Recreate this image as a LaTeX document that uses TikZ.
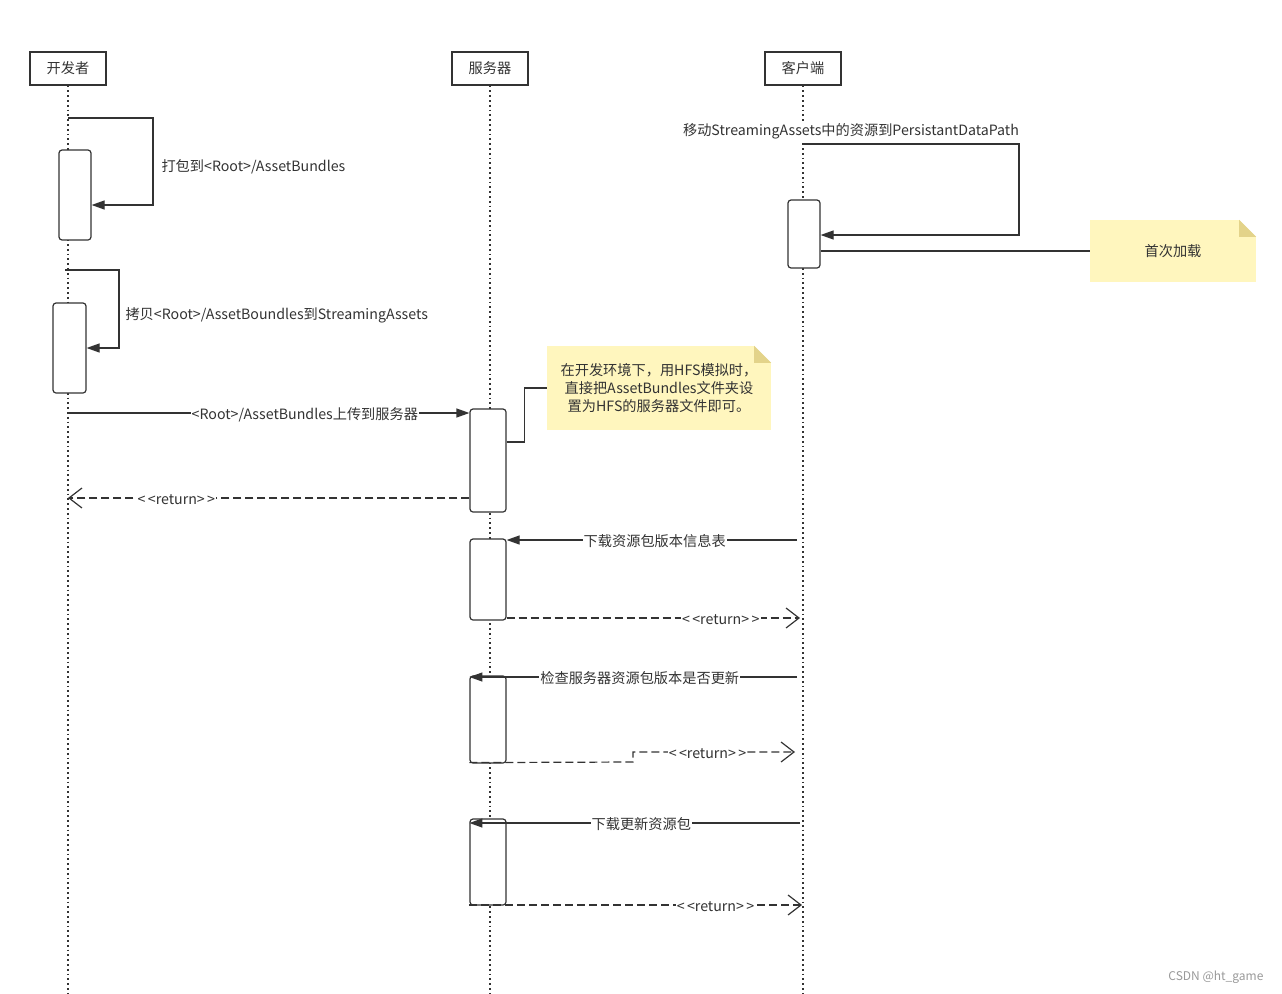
\documentclass[tikz,border=0pt]{standalone}
\usepackage{fontspec}
\newfontfamily\cjk{Noto Sans CJK SC}
\usetikzlibrary{positioning,arrows.meta}

\definecolor{linegray}{HTML}{333333}
\definecolor{notefill}{HTML}{FFF6BE}
\definecolor{notefold}{HTML}{E3D38A}

\tikzset{
    every node/.style={font=\cjk\fontsize{14.2}{18}\selectfont, text=linegray},
    actor/.style={draw=linegray, line width=1.2pt, minimum width=76pt, minimum height=33pt, inner sep=0pt},
    act/.style={draw=linegray, fill=white, line width=1.2pt, rounded corners=3pt, inner sep=0pt},
    life/.style={linegray, line width=1.8pt, dash pattern=on 1.8pt off 3pt},
    link/.style={linegray, line width=1.2pt},
    msg/.style={linegray, line width=1.2pt, -{Triangle[length=13pt,width=9pt]}},
    ret/.style={linegray, line width=1.2pt, dash pattern=on 8pt off 4pt, -{Straight Barb[length=13pt,width=20pt]}},
    lbl/.style={fill=white, inner sep=1pt, yshift=-1.5pt},
    note/.style={fill=notefill, inner sep=0pt, align=center},
}

\begin{document}
\begin{tikzpicture}[x=1pt,y=-1pt]
        \useasboundingbox (0,0) rectangle (1282,993);
        % 三个参与者
        \node [actor] (dev) at (68,68.5) {开发者};
        \node [actor] (srv) at (490,68.5) {服务器};
        \node [actor] (cli) at (803,68.5) {客户端};
        % 生命线
        \coordinate (devend) at (68,993);
        \coordinate (srvend) at (490,993);
        \coordinate (cliend) at (803,993);
        \draw [life] (dev.south) -- (devend);
        \draw [life] (srv.south) -- (srvend);
        \draw [life] (cli.south) -- (cliend);

        % 激活框
        \node [act, minimum width=32pt, minimum height=90pt] (d1) at (75,195) {};
        \node [act, minimum width=33pt, minimum height=90pt] (d2) at (69.5,348) {};
        \node [act, minimum width=36pt, minimum height=103pt] (s1) at (488,460.5) {};
        \node [act, minimum width=36pt, minimum height=81pt] (s2) at (488,579.5) {};
        \node [act, minimum width=36pt, minimum height=87pt] (s3) at (488,719.5) {};
        \node [act, minimum width=36pt, minimum height=86pt] (s4) at (488,862) {};
        \node [act, minimum width=32pt, minimum height=68pt] (c1) at (804,234) {};

        % 开发者: 打包, 拷贝
        \coordinate (l1) at (68,118);
        \draw [msg] (l1) -- (153,118) |- ([yshift=-10pt]d1.east);
        \node [anchor=west] (t1) at (158,167) {打包到<Root>/AssetBundles};
        \coordinate (l2) at (65,270);
        \draw [msg] (l2) -- (119,270) |- (d2.east);
        \node [anchor=west] (t2) at (122,315) {拷贝<Root>/AssetBoundles到StreamingAssets};

        % 上传到服务器
        \coordinate (m3) at (68,413);
        \draw [msg] (m3) -- (m3 -| s1.west) node [lbl, pos=0.59] {<Root>/AssetBundles上传到服务器};
        \coordinate (r4) at (68,498);
        \draw [ret] (r4 -| s1.west) -- (r4) node [lbl, pos=0.73] {<\,<return>\,>};

        % 注释1
        \node [note, minimum width=224pt, minimum height=84pt] (n1) at (659,388)
            {在开发环境下，用HFS模拟时，\\直接把AssetBundles文件夹设\\置为HFS的服务器文件即可。};
        \fill [white] ([xshift=-17pt]n1.north east) -- (n1.north east) -- ([yshift=-17pt]n1.north east) -- cycle;
        \fill [notefold] ([xshift=-17pt]n1.north east) -- ([yshift=-17pt]n1.north east) -- ([xshift=-17pt,yshift=-17pt]n1.north east) -- cycle;
        \draw [link] ([yshift=18.5pt]s1.east) -- ++(18,0) |- (n1.west);

        % 客户端: 首次加载
        \coordinate (l5) at (803,144);
        \draw [msg] (l5) -- (1019,144) |- ([yshift=-1pt]c1.east);
        \node [fill=white, inner sep=1pt] (t5) at (851,131) {移动StreamingAssets中的资源到PersistantDataPath};
        \node [note, minimum width=166pt, minimum height=62pt] (n2) at (1173,251) {首次加载};
        \fill [white] ([xshift=-17pt]n2.north east) -- (n2.north east) -- ([yshift=-17pt]n2.north east) -- cycle;
        \fill [notefold] ([xshift=-17pt]n2.north east) -- ([yshift=-17pt]n2.north east) -- ([xshift=-17pt,yshift=-17pt]n2.north east) -- cycle;
        \draw [link] (n2.west) -- (n2.west -| c1.east);

        % 下载版本信息表
        \coordinate (c6) at (797,540);
        \draw [msg] (c6) -- (c6 -| s2.east) node [lbl, pos=0.49] {下载资源包版本信息表};
        \coordinate (c7) at (800,618);
        \draw [ret] (c7 -| s2.east) -- (c7) node [lbl, pos=0.73] {<\,<return>\,>};

        % 检查更新
        \coordinate (c8) at (797,677);
        \draw [msg] (c8) -- (c8 -| s3.west) node [lbl, pos=0.48] {检查服务器资源包版本是否更新};
        \coordinate (c9) at (795,752);
        \draw [ret] ([yshift=1pt]s3.south west) -- (633,762) |- (c9) node [lbl, pos=0.73] {<\,<return>\,>};

        % 下载更新资源包
        \coordinate (c10) at (800,823);
        \draw [msg] (c10) -- (c10 -| s4.west) node [lbl, pos=0.48] {下载更新资源包};
        \coordinate (c11) at (802,905);
        \draw [ret] (c11 -| s4.west) -- (c11) node [lbl, pos=0.74] {<\,<return>\,>};

        % 水印
        \node [anchor=east, text=black!40, font=\cjk\fontsize{12}{14}\selectfont] (wm) at (1267,977) {CSDN @ht\_game};
    \end{tikzpicture}
\end{document}
